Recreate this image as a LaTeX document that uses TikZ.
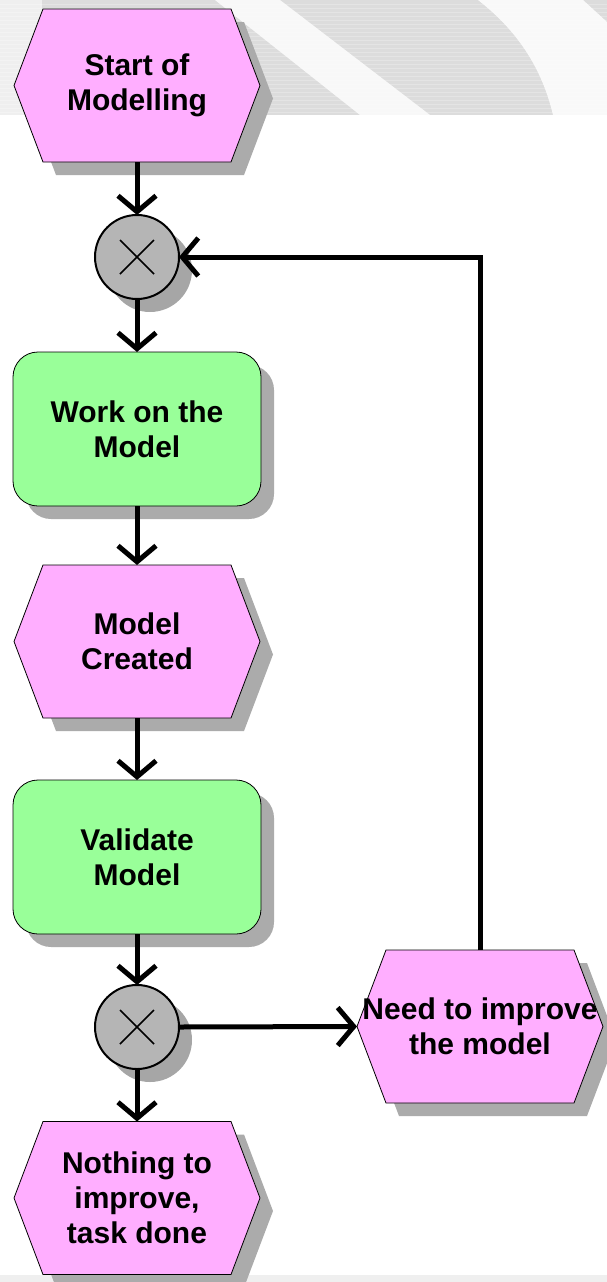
\documentclass[tikz,border=0pt]{standalone}
\usepackage{fontspec}
\setmainfont{Liberation Sans}
\usetikzlibrary{arrows.meta,shadows,calc}

\definecolor{eventpink}{HTML}{FFAEFF}
\definecolor{fngreen}{HTML}{99FF99}
\definecolor{shadowgrey}{HTML}{ABABAB}
\definecolor{gatefill}{HTML}{B5B5B5}
\definecolor{gateshadow}{HTML}{A6A6A6}
\definecolor{bandgrey}{HTML}{DCDCDC}
\definecolor{footgrey}{HTML}{EFEFEF}

% event: shadow, pink hexagon, then a text node carrying the anchors
\newcommand\eventnode[4]{%
  \fill[shadowgrey] (#2+13-123,#3+13) -- ++(29,-76.5) -- ++(188,0) -- ++(29,76.5)
        -- ++(-29,76.5) -- ++(-188,0) -- cycle;
  \filldraw[fill=eventpink,draw=black,line width=0.8pt] (#2-123,#3) -- ++(29,-76.5)
        -- ++(188,0) -- ++(29,76.5) -- ++(-29,76.5) -- ++(-188,0) -- cycle;
  \node[evtext] (#1) at (#2,#3) {#4};
}

\begin{document}
\begin{tikzpicture}[x=1pt,y=-1pt,
  font=\fontsize{30}{35}\selectfont\bfseries,
  evtext/.style={rectangle,minimum width=246pt,minimum height=153pt,
    inner sep=0pt,outer sep=0pt,align=center},
  fnbox/.style={rectangle,rounded corners=25pt,fill=fngreen,draw=black,
    line width=0.8pt,minimum width=248pt,minimum height=154pt,
    inner sep=0pt,outer sep=0pt,align=center,
    drop shadow={shadow xshift=13pt,shadow yshift=-13pt,fill=shadowgrey,opacity=1}},
  xorgate/.style={circle,fill=gatefill,draw=black,line width=2pt,
    minimum size=84pt,inner sep=0pt,outer sep=0pt,
    drop shadow={shadow xshift=13pt,shadow yshift=-13pt,fill=gateshadow,opacity=1},
    path picture={
      \draw[line width=1.6pt]
        ([shift={(-17pt,-17pt)}]path picture bounding box.center) --
        ([shift={(17pt,17pt)}]path picture bounding box.center);
      \draw[line width=1.6pt]
        ([shift={(-17pt,17pt)}]path picture bounding box.center) --
        ([shift={(17pt,-17pt)}]path picture bounding box.center);}},
  flow/.style={line width=5pt,line join=miter,
    -{Straight Barb[length=16pt,width=38pt]}},
]
\useasboundingbox (0,0) rectangle (607,1282);

% soft grey header band and footer strip
\fill[bandgrey] (0,0) rectangle (607,115);
\fill[white,opacity=0.55] (0,0) rectangle (42,115);
\fill[white,opacity=0.8] (215,0) -- (280,0) -- (430,115) -- (360,115) -- cycle;
\fill[white,opacity=0.85] (478,0) -- (583,0) -- (607,22) -- (607,115) -- (553,115)
      .. controls (540,60) and (510,25) .. (478,0) -- cycle;
\foreach \s in {4,8,...,112}
  \draw[white,opacity=0.25,line width=1pt] (0,\s) -- (607,\s);
\fill[footgrey] (0,1275) rectangle (607,1282);

% events
\eventnode{start}{137}{85.5}{Start of\\Modelling}
\eventnode{created}{137}{641.5}{Model\\Created}
\eventnode{need}{480}{1026.5}{Need to improve\\the model}
\eventnode{nothing}{137}{1198}{Nothing to\\improve,\\task done}

% functions
\node[fnbox] (work) at (137,429) {Work on the\\Model};
\node[fnbox] (validate) at (137,857) {Validate\\Model};

% XOR connectors
\node[xorgate] (g1) at (137,257) {};
\node[xorgate] (g2) at (137,1027) {};

% control flow
\draw[flow] (start.south) -- (g1.north);
\draw[flow] (g1.south) -- (work.north);
\draw[flow] (work.south) -- (created.north);
\draw[flow] (created.south) -- (validate.north);
\draw[flow] (validate.south) -- (g2.north);
\draw[flow] (g2.south) -- (nothing.north);
\draw[flow] (g2.east) -- (need.west);
\draw[flow] (need.north) |- (g1.east);
\end{tikzpicture}
\end{document}
